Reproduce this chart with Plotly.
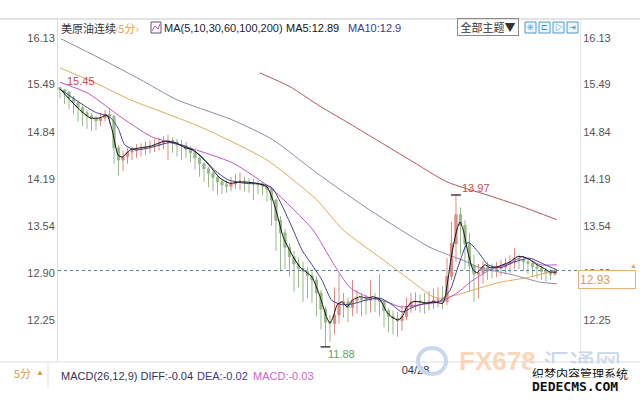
import plotly.graph_objects as go

# ---------------- data ----------------
tick_vals = [16.13, 15.49, 14.84, 14.19, 13.54, 12.90, 12.25]
tick_text = ["16.13", "15.49", "14.84", "14.19", "13.54", "12.90", "12.25"]
date_tick_idx = [79]
date_tick_text = ["04/28"]

opens = [15.45,15.42,15.38,15.30,15.24,15.17,15.10,15.06,15.02,14.99,
         15.03,15.08,15.05,14.62,14.45,14.50,14.56,14.58,14.60,14.61,
         14.63,14.64,14.65,14.68,14.71,14.72,14.70,14.66,14.65,14.60,
         14.55,14.48,14.40,14.33,14.27,14.21,14.15,14.11,14.09,14.12,
         14.16,14.16,14.14,14.13,14.12,14.11,14.09,14.05,13.90,13.62,
         13.45,13.25,13.12,13.02,12.96,12.92,12.86,12.80,12.62,12.40,
         12.22,12.20,12.32,12.48,12.50,12.42,12.52,12.55,12.53,12.52,
         12.55,12.54,12.50,12.38,12.30,12.27,12.24,12.30,12.43,12.50,
         12.51,12.49,12.48,12.50,12.52,12.53,12.50,12.85,13.30,13.70,
         13.55,13.30,13.00,12.88,12.90,12.98,12.95,12.93,12.96,12.98,
         13.02,13.05,13.10,13.08,13.05,13.03,12.98,12.96,12.92,12.90,
         12.88]
closes = [15.42,15.38,15.30,15.24,15.17,15.10,15.06,15.02,14.99,15.03,
          15.08,15.05,14.62,14.45,14.50,14.56,14.58,14.60,14.61,14.63,
          14.64,14.65,14.68,14.71,14.72,14.70,14.66,14.65,14.60,14.55,
          14.48,14.40,14.33,14.27,14.21,14.15,14.11,14.09,14.12,14.16,
          14.16,14.14,14.13,14.12,14.11,14.09,14.05,13.90,13.62,13.45,
          13.25,13.12,13.02,12.96,12.92,12.86,12.80,12.62,12.40,12.22,
          12.20,12.32,12.48,12.50,12.42,12.52,12.55,12.53,12.52,12.55,
          12.54,12.50,12.38,12.30,12.27,12.24,12.30,12.43,12.50,12.51,
          12.49,12.48,12.50,12.52,12.53,12.50,12.85,13.30,13.70,13.55,
          13.30,13.00,12.88,12.90,12.98,12.95,12.93,12.96,12.98,13.02,
          13.05,13.10,13.08,13.05,13.03,12.98,12.96,12.92,12.90,12.88,
          12.93]
highs = [15.45,15.43,15.40,15.33,15.27,15.20,15.14,15.10,15.06,15.10,
         15.14,15.16,15.07,14.66,14.58,14.62,14.64,14.67,14.68,14.70,
         14.72,14.74,14.76,14.78,14.80,14.76,14.74,14.73,14.70,14.64,
         14.58,14.50,14.42,14.36,14.30,14.24,14.18,14.17,14.22,14.26,
         14.28,14.22,14.20,14.19,14.17,14.15,14.12,14.08,13.92,13.68,
         13.50,13.30,13.20,13.10,13.05,12.98,12.92,12.85,12.66,12.44,
         12.32,12.70,12.88,12.62,12.56,12.80,12.66,12.62,12.60,12.80,
         12.62,12.88,12.52,12.42,12.38,12.36,12.45,12.56,12.62,12.63,
         12.60,12.62,12.65,12.68,12.70,12.72,13.10,13.60,13.97,13.80,
         13.62,13.45,13.15,13.02,13.06,13.05,13.03,13.05,13.08,13.10,
         13.14,13.24,13.15,13.12,13.10,13.06,13.03,13.00,12.97,12.95,
         12.96]
lows = [15.30,15.22,15.15,15.08,14.98,14.92,14.88,14.85,14.86,14.92,
        14.98,14.95,14.40,14.24,14.30,14.40,14.45,14.48,14.50,14.52,
        14.54,14.56,14.58,14.60,14.45,14.55,14.50,14.45,14.48,14.42,
        14.32,14.22,14.15,14.08,14.02,13.98,13.98,14.00,14.02,14.05,
        14.04,14.02,14.00,13.90,13.98,13.96,13.88,13.55,13.20,12.92,
        12.95,12.85,12.64,12.70,12.50,12.55,12.48,12.30,12.12,11.88,
        11.95,12.05,12.20,12.28,12.22,12.30,12.34,12.30,12.32,12.35,
        12.36,12.30,12.15,12.08,12.05,12.02,12.10,12.25,12.35,12.38,
        12.35,12.34,12.38,12.40,12.42,12.40,12.45,12.80,13.05,13.15,
        12.95,12.65,12.50,12.55,12.75,12.80,12.82,12.84,12.86,12.88,
        12.90,12.95,12.95,12.92,12.88,12.84,12.82,12.80,12.78,12.80,
        12.86]
bar_idx = list(range(len(closes)))

ma5_idx = [0,2.2,4.4,6.7,8.9,10.4,11.6,12.9,13.8,15.6,20,23.3,25.6,27.8,29.6,
           32.7,35.6,37.8,40,43.8,46,47.3,48.4,49.6,50.7,51.8,53.3,54.9,56,57.8,
           59.3,60,60.7,61.6,62.7,63.8,65.1,66.7,68.2,69.6,71.1,72.7,74,75.1,76,
           77.1,78.4,80,81.6,82.9,85.1,85.6,86.2,87.1,88.2,88.9,89.6,90.7,91.8,92.7,
           93.3,94.4,95.6,97.1,98.4,100,101.6,102.9,104.4,106,107.3,108.9,110.4]
ma5_val = [15.43,15.28,15.14,15.03,15.03,15.07,14.86,14.52,14.49,14.59,14.64,14.71,14.69,14.62,14.59,
           14.41,14.20,14.13,14.15,14.13,14.08,13.90,13.67,13.39,13.25,13.12,12.98,12.90,12.84,12.57,
           12.28,12.21,12.29,12.46,12.50,12.43,12.53,12.57,12.55,12.57,12.53,12.35,12.28,12.25,12.29,
           12.43,12.50,12.50,12.48,12.50,12.48,12.57,12.80,13.17,13.49,13.60,13.49,13.17,12.94,12.90,
           12.94,13.01,12.97,12.98,13.01,13.05,13.12,13.12,13.08,13.01,12.97,12.91,12.91]
ma10_idx = [0.4,4.4,7.8,11.1,12.9,14.4,16.7,20,24.4,27.8,31.1,34.4,37.3,41.1,44.9,
            47.1,49.3,51.6,53.8,56,58.2,60.4,62.7,64.9,67.8,71.1,73.8,76,78.2,81.1,
            84.4,86.7,88.4,90.7,92.9,95.1,97.8,101.1,104.4,107.8,110.4]
ma10_val = [15.41,15.24,15.11,15.04,14.89,14.66,14.59,14.62,14.69,14.64,14.52,14.31,14.18,14.13,14.12,
            14.07,13.83,13.52,13.21,13.01,12.80,12.52,12.46,12.47,12.52,12.55,12.46,12.36,12.42,12.48,
            12.51,12.66,12.97,13.32,13.19,13.01,12.97,13.05,13.10,13.01,12.94]
ma30_idx = [0,6.2,13.8,20.4,28.2,38.4,47.3,56.2,60.7,64.4,68.2,72.7,75.6,80,84.4,88.2,91.8,95.6,100,102.9,106.7,110.4]
ma30_val = [15.52,15.37,15.03,14.77,14.63,14.41,14.04,13.49,13.03,12.70,12.57,12.50,12.43,12.46,12.50,12.62,12.80,12.94,13.03,13.12,13.01,13.01]
ma60_idx = [0,8.9,15.6,31.1,46,57.1,62.9,71.8,77.8,82.9,85.1,89.6,97.1,104.4,110.4]
ma60_val = [15.72,15.48,15.28,14.91,14.45,13.90,13.49,13.08,12.80,12.57,12.55,12.62,12.76,12.84,12.94]
ma100_idx = [0.2,8.9,17.8,26,38.4,47.3,57.1,68.9,82.2,89.6,93.3,100.7,106.7,110.4]
ma100_val = [16.12,15.85,15.56,15.28,15.00,14.73,14.27,13.76,13.25,13.07,12.97,12.87,12.77,12.75]
ma200_idx = [44.4,51.1,57.8,64.4,71.1,77.8,86,94.9,102.2,110.4]
ma200_val = [15.65,15.46,15.19,14.95,14.70,14.45,14.15,13.97,13.82,13.63]

last_price = 12.93

# ---------------- figure ----------------
L, R, T, B = 58, 580, 19, 362
W, H = 640, 400
def fx(x): return (x - L) / (R - L)
def fy(y): return 1 - (y - T) / (B - T)

YR = [11.672, 16.391]
XR = [-0.444, 115.56]
FONT = "Arial, Liberation Sans, Noto Sans CJK SC"
CJK = "Noto Sans CJK SC, Arial"

fig = go.Figure()
fig.add_trace(go.Candlestick(
    x=bar_idx, open=opens, high=highs, low=lows, close=closes,
    increasing=dict(line=dict(color="#dc8c84", width=1), fillcolor="#dc8c84"),
    decreasing=dict(line=dict(color="#98b98b", width=1), fillcolor="#98b98b"),
    whiskerwidth=0, hoverinfo="skip", showlegend=False))

ma_specs = [
    (ma200_idx, ma200_val, "#b85555"),
    (ma100_idx, ma100_val, "#8c8ca8"),
    (ma60_idx, ma60_val, "#e2a955"),
    (ma30_idx, ma30_val, "#c455c8"),
    (ma10_idx, ma10_val, "#3d4590"),
    (ma5_idx, ma5_val, "#111111"),
]
for xs, ys, col in ma_specs:
    fig.add_trace(go.Scatter(x=xs, y=ys, mode="lines",
                             line=dict(color=col, width=1, shape="spline", smoothing=0.6),
                             hoverinfo="skip", showlegend=False))

# extreme markers: start high, later peak, overall low
first_i = 0
peak_i = 60 + highs[60:].index(max(highs[60:]))
lo_i = lows.index(min(lows))
fig.add_trace(go.Scatter(x=[peak_i, lo_i], y=[highs[peak_i], lows[lo_i]], mode="markers",
                         marker=dict(symbol="line-ew", size=7, line=dict(color="#111", width=1.2)),
                         hoverinfo="skip", showlegend=False))
# invisible trace for the right axis
fig.add_trace(go.Scatter(x=bar_idx, y=closes, yaxis="y2", mode="lines",
                         line=dict(color="rgba(0,0,0,0)"), hoverinfo="skip", showlegend=False))

shapes = []
def hline(y, x0, x1, color, width=1, dash=None):
    shapes.append(dict(type="line", xref="paper", yref="paper", x0=fx(x0), x1=fx(x1), y0=fy(y), y1=fy(y),
                       line=dict(color=color, width=width, dash=dash)))
def vline(x, y0, y1, color, width=1):
    shapes.append(dict(type="line", xref="paper", yref="paper", x0=fx(x), x1=fx(x), y0=fy(y0), y1=fy(y1),
                       line=dict(color=color, width=width)))
def rect(x0, y0, x1, y1, color, fill="rgba(0,0,0,0)", width=1):
    shapes.append(dict(type="rect", xref="paper", yref="paper", x0=fx(x0), x1=fx(x1), y0=fy(y1), y1=fy(y0),
                       line=dict(color=color, width=width), fillcolor=fill))

hline(19, 0, 640, "#c8c8c8")
hline(362, 0, 640, "#dedede")
vline(48, 363, 388, "#e0e0e0")
# last price dashed line
shapes.append(dict(type="line", xref="paper", yref="y", x0=0, x1=1, y0=last_price, y1=last_price,
                   line=dict(color="#4f7fa6", width=1, dash="3px,3px")))
# MA icon
rect(151, 22, 161, 33, "#6a4a8a")
shapes.append(dict(type="path", xref="paper", yref="paper",
                   path="M %f,%f L %f,%f L %f,%f L %f,%f" % (fx(152), fy(31), fx(155), fy(26), fx(158), fy(29), fx(160), fy(24)),
                   line=dict(color="#c050c0", width=1)))
# toolbar icons
for x0 in [525, 539, 553, 567]:
    rect(x0, 22, x0 + 11, 33, "#4a9cc8", fill="#eef7fb")
# watermark logo circle
shapes.append(dict(type="circle", xref="paper", yref="paper", x0=fx(418), x1=fx(446), y0=fy(374), y1=fy(348),
                   line=dict(color="#c9d8f0", width=4)))

ann = []
def text(x, y, s, color, size=11, anchor="left", family=FONT, **kw):
    ann.append(dict(x=fx(x), y=fy(y), xref="paper", yref="paper", text=s, showarrow=False,
                    xanchor=anchor, yanchor="middle", font=dict(color=color, size=size, family=family), **kw))

text(59, 28, "美原油连续", "#333333", 11, family=CJK)
text(113, 28, "‹5分›", "#e3a24a", 11, family=CJK)
text(162, 28, "MA(5,10,30,60,100,200)", "#222233", 11)
text(284, 28, "MA5:12.89", "#111111", 11)
text(346, 28, "MA10:12.9", "#3a3a8e", 11)
text(457, 27, "全部主题▼", "#333333", 11, family=CJK, bordercolor="#8a8a8a", borderwidth=1, borderpad=0,
     width=60, align="center")
for x0, g in zip([525, 539, 553, 567], ["⁜", "⊏", "▷", "⇥"]):
    text(x0 + 5.5, 27.5, g, "#3a8cb8", 8, anchor="center")

# right price tag
text(578, 279, "12.93", "#d9a055", 12, bordercolor="#e6b070", borderwidth=1, bgcolor="#ffffff",
     width=54, height=15, align="left", borderpad=1)
text(633, 265, "▲", "#e8a040", 7, anchor="center")

# extreme labels (data-linked)
ann.append(dict(x=first_i, y=highs[first_i], xref="x", yref="y", text="15.45", showarrow=False, xanchor="left",
                yanchor="middle", xshift=5, yshift=6, font=dict(color="#c44c4c", size=11, family=FONT)))
ann.append(dict(x=peak_i, y=highs[peak_i], xref="x", yref="y", text="13.97", showarrow=False, xanchor="left",
                yanchor="middle", xshift=4, yshift=7, font=dict(color="#c44c4c", size=11, family=FONT)))
ann.append(dict(x=lo_i, y=lows[lo_i], xref="x", yref="y", text="11.88", showarrow=False, xanchor="left",
                yanchor="middle", xshift=1, yshift=-7, font=dict(color="#5fa35f", size=11, family=FONT)))

# bottom row
text(12, 373, "5分", "#e09a3a", 11, family=CJK)
text(34, 372, "▲", "#e09a3a", 8)
text(59, 376, "MACD(26,12,9) DIFF:-0.04", "#333355", 11)
text(195, 376, "DEA:-0.02", "#3a3a8e", 11)
text(251, 376, "MACD:-0.03", "#cc66cc", 11)

# watermark
text(457, 361, "<b>FX678</b>", "#fbd6b8", 26)
text(541, 361, "汇通网", "#c9d6ee", 26, family=CJK)
text(530, 373, "织梦内容管理系统", "#111111", 12, family=CJK, bgcolor="#ffffff")
text(530, 386, "<b>DEDECMS.COM</b>", "#111111", 13, family="DejaVu Sans Mono", bgcolor="#ffffff")

axis_font = dict(color="#555555", size=11, family=FONT)
fig.update_layout(
    width=W, height=H, margin=dict(l=L, r=W - R, t=T, b=H - B),
    paper_bgcolor="#ffffff", plot_bgcolor="#ffffff",
    showlegend=False, shapes=shapes, annotations=ann,
    xaxis=dict(range=XR, rangeslider=dict(visible=False), showgrid=False, zeroline=False,
               tickvals=date_tick_idx, ticktext=date_tick_text, ticks="", ticklen=0,
               tickfont=dict(color="#333333", size=11, family=FONT), showline=False),
    yaxis=dict(range=YR, tickvals=tick_vals, ticktext=tick_text, showgrid=False, zeroline=False,
               ticks="", tickfont=axis_font, showline=True, linecolor="#dcdcdc", linewidth=1),
    yaxis2=dict(range=YR, overlaying="y", side="right", tickvals=tick_vals, ticktext=tick_text,
                showgrid=False, zeroline=False, ticks="", tickfont=axis_font,
                showline=True, linecolor="#e6e6e6", linewidth=1),
)
fig.write_html("out.html", config={"displayModeBar": False},
               post_script="document.body.style.margin='0';document.body.style.overflow='hidden';")
